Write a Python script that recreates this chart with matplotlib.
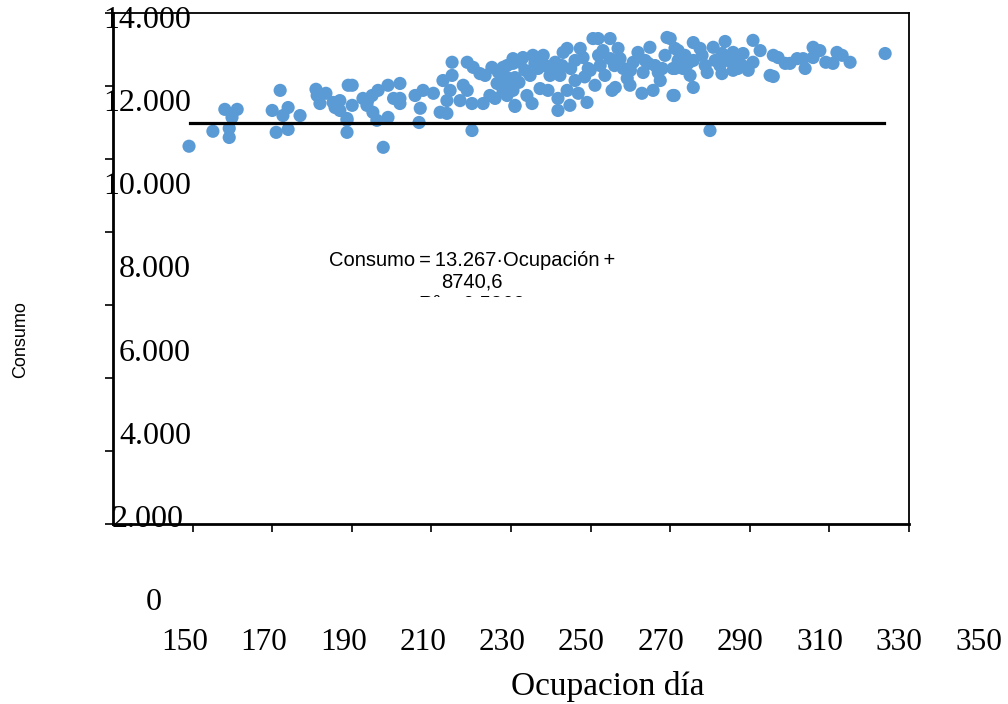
import numpy as np
import matplotlib
matplotlib.use('Agg')
import matplotlib.pyplot as plt
from matplotlib.transforms import Bbox

# datos (ocupacion dia, consumo)
ocupacion = [
    149.1, 155.1, 158.1, 161.2, 159.9, 159.2, 159.2, 172.0, 170.0, 171.0,
    172.7, 174.0, 174.0, 177.0, 181.0, 181.3, 182.0, 185.3, 185.8, 187.0,
    189.1, 188.8, 188.8, 190.1, 187.0, 190.1, 188.8, 192.8, 193.8, 195.1,
    195.3, 196.3, 196.6, 199.1, 199.1, 197.9, 202.1, 202.1, 202.1, 205.9,
    207.2, 207.9, 206.9, 212.2, 213.9, 212.9, 215.2, 215.2, 214.7, 213.9,
    217.2, 219.0, 220.5, 222.2, 219.0, 220.2, 223.0, 220.2, 225.2, 226.5,
    226.0, 228.0, 229.0, 230.5, 231.0, 228.0, 230.5, 231.0, 229.0, 230.5,
    232.3, 233.0, 229.8, 229.0, 231.0, 234.0, 235.3, 234.8, 235.5, 238.1,
    236.8, 237.3, 239.8, 241.1, 243.1, 244.1, 241.8, 244.1, 244.8, 241.8,
    246.9, 249.1, 247.4, 248.1, 250.6, 251.9, 254.9, 249.4, 252.4, 253.1,
    254.9, 256.2, 256.9, 258.2, 259.2, 260.7, 261.9, 263.2, 262.9, 265.7,
    264.9, 267.0, 269.2, 270.7, 271.2, 272.0, 270.7, 270.0, 272.0, 275.8,
    280.8, 283.8, 290.8, 271.2, 273.2, 275.8, 275.0, 278.8, 279.3, 283.0,
    283.0, 285.8, 286.3, 285.8, 288.3, 288.1, 290.8, 275.8, 271.0, 295.9,
    297.1, 295.1, 295.9, 298.9, 301.9, 303.4, 303.9, 305.9, 305.9, 311.9,
    313.2, 310.9, 315.2, 324.0, 280.0,
    223.5, 224.7, 228.5, 233.5, 238.6, 239.3, 242.3, 246.1, 249.9, 251.1,
    253.6, 255.4, 257.4, 259.9, 263.7, 266.2, 267.5, 268.7, 273.7, 277.5,
    281.3, 282.5, 289.6, 292.6, 300.1, 307.6, 309.1, 242.8, 246.1, 237.3,
    226.8, 232.0, 236.0, 240.5, 245.0, 248.5, 252.0, 256.0, 260.0, 264.5,
    268.0, 274.5, 278.0, 284.5, 287.0, 218.0, 210.5, 200.5, 194.0, 183.5,
]
consumo = [
    10350, 10760, 11360, 11360, 11140, 10840, 10590, 11880, 11330, 10730,
    11190, 11410, 10810, 11190, 11910, 11740, 11520, 11550, 11410, 11330,
    12020, 11060, 10730, 12020, 11600, 11470, 11110, 11660, 11470, 11740,
    11280, 11060, 11880, 12020, 11140, 10320, 12070, 11660, 11520, 11740,
    11390, 11880, 11000, 11280, 11250, 12150, 12290, 12650, 11880, 11600,
    11600, 12650, 12510, 12340, 11880, 11520, 11520, 10780, 12510, 12070,
    11660, 12510, 12230, 12620, 12230, 11880, 11880, 11440, 12560, 12750,
    12650, 12780, 12150, 11740, 11470, 11740, 11520, 12290, 12840, 12840,
    12480, 11930, 12290, 12650, 12920, 13030, 11660, 11880, 11470, 11330,
    11800, 11550, 13030, 12780, 13300, 13300, 13300, 12480, 12560, 12970,
    12750, 11960, 13030, 12480, 12210, 12650, 12920, 12370, 11800, 11880,
    13060, 12370, 13330, 11740, 13030, 12700, 12480, 13300, 12970, 13190,
    13060, 13220, 13250, 12480, 12480, 12700, 12290, 12560, 12370, 12890,
    12340, 12920, 12650, 12430, 12890, 12560, 12650, 11960, 11740, 12840,
    12780, 12290, 12260, 12620, 12750, 12750, 12480, 13060, 12780, 12920,
    12840, 12620, 12650, 12890, 10780,
    12290, 11740, 12020, 12430, 12560, 11880, 12290, 12700, 12430, 12020,
    12290, 11880, 12750, 12020, 12700, 12560, 12150, 12840, 12840, 13030,
    12700, 12560, 12430, 12970, 12620, 12970, 12650, 12560, 12150, 12700,
    12380, 12100, 12620, 12430, 12480, 12250, 12840, 12560, 12430, 12620,
    12480, 12620, 12840, 12700, 12480, 12020, 11800, 11660, 11600, 11800,
]
linea_x = [149.3, 323.7]
linea_y = 10975

y_ticks = [0, 2000, 4000, 6000, 8000, 10000, 12000, 14000]
y_labels = ['0', '2.000', '4.000', '6.000', '8.000', '10.000', '12.000', '14.000']
x_ticks = [150, 170, 190, 210, 230, 250, 270, 290, 310, 330]
x_labels = ['150', '170', '190', '210', '230', '250', '270', '290', '310', '330', '350']

W, H = 1008, 704
fig = plt.figure(figsize=(W / 100, H / 100), dpi=100)
ax = fig.add_axes([113 / W, 1 - 524 / H, 796 / W, 511 / H])

ax.scatter(ocupacion, consumo, s=90, color='#5B9BD5', edgecolors='none', zorder=3)
ax.plot(linea_x, [linea_y, linea_y], color='black', lw=2.3, zorder=4)

ax.set_xlim(130, 330)
ax.set_ylim(0, 14000)
ax.set_xticks(x_ticks)
ax.set_yticks(y_ticks)
ax.set_xticklabels([])
ax.set_yticklabels([])
ax.tick_params(direction='out', length=6, width=1.2, color='black')
for side in ['left', 'bottom']:
    ax.spines[side].set_linewidth(2)
for side in ['top', 'right']:
    ax.spines[side].set_linewidth(1.3)

def px(x, y):
    return x / W, 1 - y / H

serif = 'Liberation Serif'
# etiquetas del eje y (desplazadas como en el original)
for i, lab in enumerate(y_labels[::-1]):
    yy = 20 + i * 83.3
    if lab == '0':
        fig.text(*px(154, 603), lab, ha='center', va='center', family=serif, fontsize=23)
    elif lab == '2.000':
        fig.text(*px(184, yy), lab, ha='right', va='center', family=serif, fontsize=23)
    else:
        fig.text(*px(191, yy), lab, ha='right', va='center', family=serif, fontsize=23)

for i, lab in enumerate(x_labels):
    fig.text(*px(184.5 + i * 79.4, 643), lab, ha='center', va='center', family=serif, fontsize=22.5)

fig.text(*px(608, 686), 'Ocupacion día', ha='center', va='center', family=serif, fontsize=24)
fig.text(*px(21, 340), 'Consumo', ha='center', va='center', rotation=90,
         family='Liberation Sans', fontsize=13)

fig.text(*px(472, 261), 'Consumo\u2009=\u200913.267·Ocupación\u2009+', ha='center', va='center',
         family='Liberation Sans', fontsize=14.5)
fig.text(*px(472, 282), '8740,6', ha='center', va='center',
         family='Liberation Sans', fontsize=14.5)
r2 = fig.text(*px(472, 305), 'R² = 0,5862', ha='center', va='center',
              family='Liberation Sans', fontsize=14.5)
r2.set_clip_box(Bbox([[0, H - 297], [W, H]]))
r2.set_clip_on(True)

fig.savefig('out.png', dpi=100)
